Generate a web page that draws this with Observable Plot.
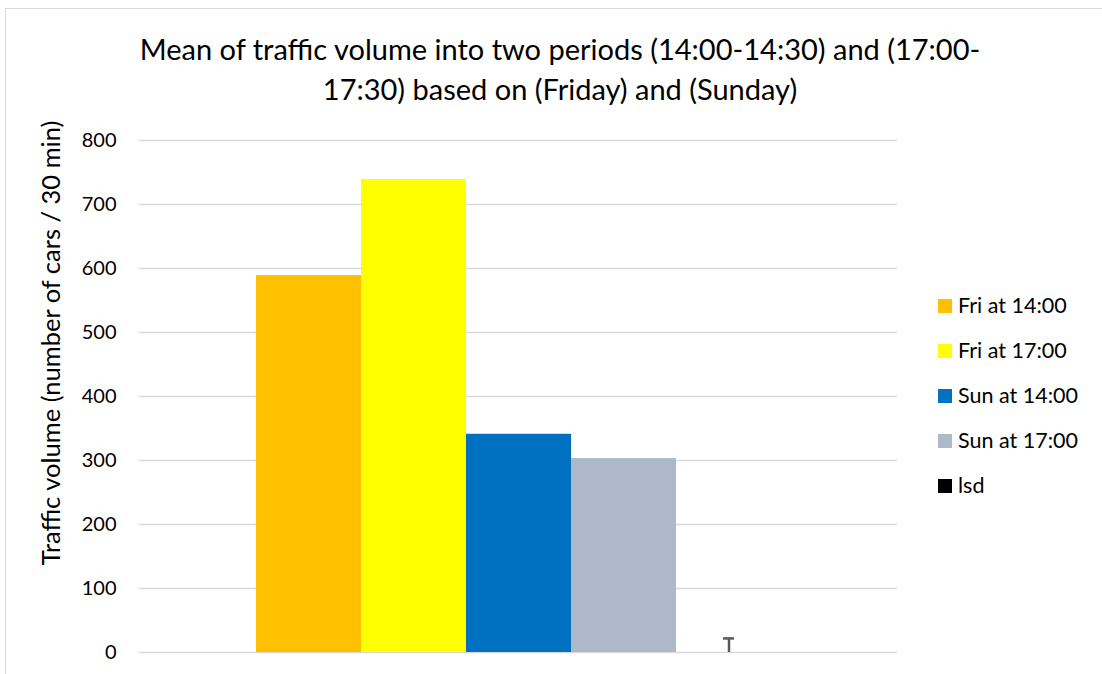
<!DOCTYPE html>
<html>
<head>
<meta charset="utf-8">
<script src="https://cdn.jsdelivr.net/npm/d3@7"></script>
<script src="https://cdn.jsdelivr.net/npm/@observablehq/plot@0.6"></script>
<style>
  html, body { margin: 0; padding: 0; background: #fff; }
  #wrap { position: relative; width: 1102px; height: 674px; overflow: hidden; font-family: Lato, "Open Sans", sans-serif; color: #000; }
  #frame { position: absolute; left: 5px; top: 8px; width: 1200px; height: 800px; border: 1.5px solid #d9d9d9; box-sizing: border-box; }
  #title { position: absolute; left: 0; width: 1120px; top: 29px; text-align: center; font-size: 29px; line-height: 40px; color: #000; }
  #ylabel { position: absolute; left: 50px; top: 343px; transform: translate(-50%, -50%) rotate(-90deg); white-space: nowrap; font-size: 25.5px; }
  #legend { position: absolute; left: 938px; top: 292px; font-size: 21.5px; }
  .item { height: 45px; display: flex; align-items: flex-start; }
  .sw { width: 14px; height: 14px; margin-top: 7px; margin-right: 6px; }
  #chart { position: absolute; left: 0; top: 0; }
</style>
</head>
<body>
<div id="wrap">
  <div id="frame"></div>
  <div id="chart"></div>
  <div id="title">Mean of traffic volume into two periods (14:00-14:30) and (17:00-<br>17:30) based on (Friday) and (Sunday)</div>
  <div id="ylabel">Traffic volume (number of cars / 30 min)</div>
  <div id="legend"></div>
</div>
<script>
const series = ["Fri at 14:00", "Fri at 17:00", "Sun at 14:00", "Sun at 17:00", "lsd"];
const values = [589, 739, 341, 303, 0];
const errors = [null, null, null, null, 22];
const colors = ["#FFC000", "#FFFF00", "#0070C0", "#ADB9CA", "#000000"];
const yTicks = [0, 100, 200, 300, 400, 500, 600, 700, 800];

const data = series.map((s, i) => ({series: s, value: values[i], err: errors[i]}));
const errData = data.filter(d => d.err != null);

const chart = Plot.plot({
  width: 1102,
  height: 674,
  marginLeft: 139,
  marginRight: 205,
  marginTop: 140,
  marginBottom: 22,
  style: {fontFamily: "Lato, 'Open Sans', sans-serif", fontSize: "20px", color: "#000", background: "transparent"},
  x: {type: "band", domain: series, paddingInner: 0, paddingOuter: 1.09, axis: null},
  y: {domain: [0, 800], ticks: yTicks, tickSize: 0, tickPadding: 23, label: null},
  color: {domain: series, range: colors},
  marks: [
    Plot.gridY(yTicks, {stroke: "#d9d9d9", strokeOpacity: 1, strokeWidth: 1.5}),
    Plot.barY(data, {x: "series", y: "value", fill: "series"}),
    Plot.ruleX(errData, {x: "series", y1: "value", y2: d => d.value + d.err, stroke: "#595959", strokeWidth: 2.5}),
    Plot.tickY(errData, {x: "series", y: d => d.value + d.err, stroke: "#595959", strokeWidth: 2.5, insetLeft: 47, insetRight: 47}),
    Plot.axisY({ticks: yTicks, tickSize: 0, tickPadding: 23, label: null, fontSize: 20})
  ]
});
document.getElementById("chart").appendChild(chart);

const legend = document.getElementById("legend");
series.forEach((s, i) => {
  const item = document.createElement("div");
  item.className = "item";
  const sw = document.createElement("div");
  sw.className = "sw";
  sw.style.background = colors[i];
  const t = document.createElement("span");
  t.textContent = s;
  item.appendChild(sw);
  item.appendChild(t);
  legend.appendChild(item);
});
</script>
</body>
</html>
